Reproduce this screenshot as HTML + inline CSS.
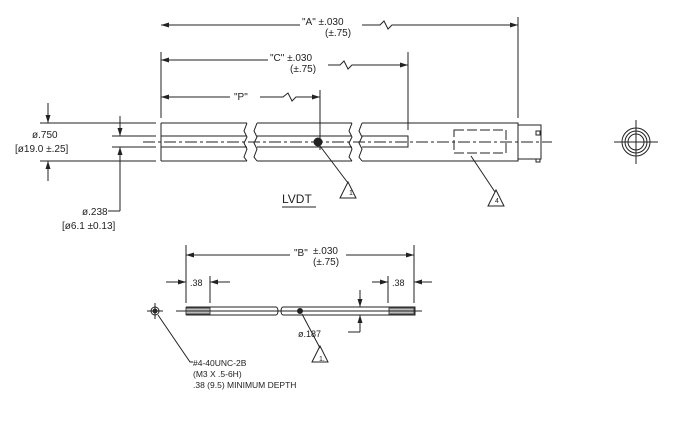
<!DOCTYPE html>
<html><head><style>body{margin:0;background:#fff}svg{display:block}text{font-family:"Liberation Sans",sans-serif;fill:#222}</style></head><body>
<svg width="687" height="431" viewBox="0 0 687 431" stroke="#222" stroke-width="1" fill="none">
<defs><marker id="a" markerWidth="8" markerHeight="6" refX="8" refY="3" orient="auto" markerUnits="userSpaceOnUse"><path d="M0,0.5 L8,3 L0,5.5Z" fill="#222" stroke="none"/></marker></defs>
<g font-size="10" stroke="none">
<text x="302" y="25">"A" ±.030</text><text x="325" y="36">(±.75)</text>
<text x="270" y="61">"C" ±.030</text><text x="290" y="72">(±.75)</text>
<text x="234" y="100">"P"</text>
<text x="32" y="138">ø.750</text><text x="15" y="152">[ø19.0 ±.25]</text>
<text x="82" y="215">ø.238</text><text x="62" y="229">[ø6.1 ±0.13]</text>
<text x="282" y="203" font-size="12">LVDT</text>
<text x="294" y="256">"B"</text><text x="313" y="254">±.030</text><text x="313" y="265">(±.75)</text>
<text x="190" y="286" font-size="9">.38</text><text x="392" y="286" font-size="9">.38</text>
<text x="298" y="337" font-size="9">ø.187</text>
<text x="193" y="366" font-size="8.5">#4-40UNC-2B</text>
<text x="193" y="377" font-size="8.5">(M3 X .5-6H)</text>
<text x="193" y="388" font-size="8.5">.38 (9.5) MINIMUM DEPTH</text>
<text x="349" y="195" font-size="7">1.</text><text x="495" y="203" font-size="7">4</text><text x="319" y="361" font-size="7">1.</text>
</g>
<path d="M300,25 H161" marker-end="url(#a)"/><path d="M362,25 H380 l4,-4 4,8 4,-4 H518" marker-end="url(#a)"/>
<path d="M268,60 H161" marker-end="url(#a)"/><path d="M328,65 H340 l4,-4 4,8 4,-4 H408" marker-end="url(#a)"/>
<path d="M230,97 H161" marker-end="url(#a)"/><path d="M260,97 H283 l5,-4 4,8 4,-4 H320" marker-end="url(#a)"/>
<path d="M518,17 V118 M161,52 V118 M408,52 V130 M320,90 V150"/>
<path d="M161,123 H247 M161,161 H247 M161,123 V161 M247,123 l-3,8 3,6 -3,6 3,6 -3,8 3,4"/>
<path d="M257,123 H352 M257,161 H352 M257,123 l-3,8 3,6 -3,6 3,6 -3,8 3,4 M352,123 l-3,8 3,6 -3,6 3,6 -3,8 3,4"/>
<path d="M362,123 H518 V161 H362 M362,123 l-3,8 3,6 -3,6 3,6 -3,8 3,4"/>
<path d="M161,136 H247 M161,147 H247 M257,136 H352 M257,147 H352 M362,136 H408 V147 H362"/>
<path d="M143,142 H552" stroke-dasharray="12,3,3,3"/>
<path d="M454,130 H506 V153 H454Z" stroke-dasharray="10,3"/>
<path d="M518,125 H541 V159 H518 M536,131 h4 v4 h-4z M536,159 v3 h4 v-3"/>
<circle cx="318" cy="142" r="4" fill="#222"/>
<path d="M320,146 L348,183 M471,156 L495,192"/>
<path d="M348,182 L340,198 H356Z M496,190 L488,206 H504Z M320,346 L312,362 H328Z"/>
<path d="M40,123 H156 M40,161 H156 M112,136 H156 M112,147 H156"/>
<path d="M48,103 V123" marker-end="url(#a)"/><path d="M48,181 V161" marker-end="url(#a)"/>
<path d="M120,116 V136" marker-end="url(#a)"/><path d="M120,211 V147" marker-end="url(#a)"/><path d="M120,211 H108"/>
<path d="M282,207 H316"/>
<circle cx="636" cy="142" r="14"/><circle cx="636" cy="142" r="11"/><circle cx="636" cy="142" r="8"/>
<path d="M614,142 H658 M636,120 V164"/>
<path d="M290,255 H186" marker-end="url(#a)"/><path d="M346,255 H414" marker-end="url(#a)"/>
<path d="M186,245 V303 M414,245 V303 M210,276 V303 M388,276 V303"/>
<path d="M166,282 H186" marker-end="url(#a)"/><path d="M230,282 H210" marker-end="url(#a)"/>
<path d="M372,282 H388" marker-end="url(#a)"/><path d="M432,282 H414" marker-end="url(#a)"/>
<path d="M186,307 H276 M186,315 H276 M186,307 V315 M276,307 a2,4 0 0 1 0,8"/>
<path d="M283,307 H415 V315 H283 M283,307 a2,4 0 0 0 0,8"/>
<rect x="186" y="308" width="24" height="6" fill="#bbb" stroke="#444"/><rect x="389" y="308" width="25" height="6" fill="#bbb" stroke="#444"/>
<path d="M176,311 H422"/>
<circle cx="155" cy="311" r="4"/><circle cx="155" cy="311" r="2" fill="#444"/><path d="M147,311 H163 M155,303 V319"/>
<circle cx="300" cy="311" r="2.5" fill="#222"/>
<path d="M158,315 L190,362 H193 M302,314 L320,348"/>
<path d="M360,290 V307" marker-end="url(#a)"/><path d="M360,332 V315" marker-end="url(#a)"/><path d="M360,332 H348"/>
</svg>
</body></html>
